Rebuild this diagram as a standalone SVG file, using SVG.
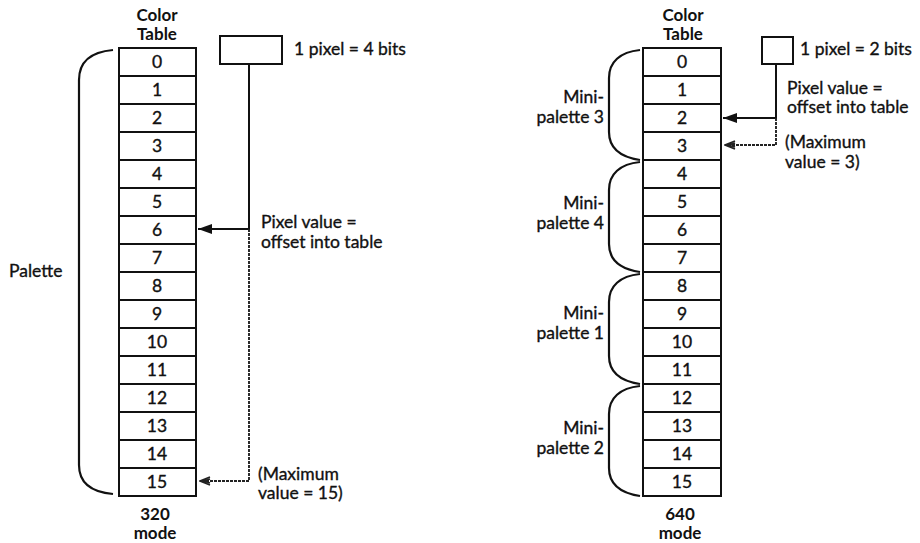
<svg xmlns="http://www.w3.org/2000/svg" width="920" height="543" viewBox="0 0 920 543">
<defs>
<style>
.t{font-family:Lato,"Liberation Sans",sans-serif;font-size:17.5px;fill:#111;stroke:#111;stroke-width:0.35}
.b{font-family:Lato,"Liberation Sans",sans-serif;font-size:17px;font-weight:bold;fill:#111}
.cell{fill:#fff;stroke:#111;stroke-width:2}
.ln{fill:none;stroke:#111;stroke-width:2}
.br{fill:none;stroke:#111;stroke-width:2.2}
.dot{fill:none;stroke:#222;stroke-width:1.9;stroke-dasharray:3 1}
</style>
<marker id="ah" viewBox="0 0 14 10" refX="14" refY="5" markerWidth="14" markerHeight="10" markerUnits="userSpaceOnUse" orient="auto">
<path d="M0,0 L14,5 L0,10 Z" fill="#111"/>
</marker>
<marker id="ahd" viewBox="0 0 12 10" refX="11" refY="5" markerWidth="12" markerHeight="10" markerUnits="userSpaceOnUse" orient="auto">
<path d="M1,1 L11,5 L1,9 M1,3 L7,5 L1,7" fill="none" stroke="#222" stroke-width="1.6"/>
</marker>
</defs>
<rect width="920" height="543" fill="#fff"/>

<g id="table320">
<text class="b" x="157" y="21" text-anchor="middle">Color</text>
<text class="b" x="157" y="40" text-anchor="middle">Table</text>
<rect class="cell" x="119" y="48" width="77" height="28"/>
<rect class="cell" x="119" y="76" width="77" height="28"/>
<rect class="cell" x="119" y="104" width="77" height="28"/>
<rect class="cell" x="119" y="132" width="77" height="28"/>
<rect class="cell" x="119" y="160" width="77" height="28"/>
<rect class="cell" x="119" y="188" width="77" height="28"/>
<rect class="cell" x="119" y="216" width="77" height="28"/>
<rect class="cell" x="119" y="244" width="77" height="28"/>
<rect class="cell" x="119" y="272" width="77" height="28"/>
<rect class="cell" x="119" y="300" width="77" height="28"/>
<rect class="cell" x="119" y="328" width="77" height="28"/>
<rect class="cell" x="119" y="356" width="77" height="28"/>
<rect class="cell" x="119" y="384" width="77" height="28"/>
<rect class="cell" x="119" y="412" width="77" height="28"/>
<rect class="cell" x="119" y="440" width="77" height="28"/>
<rect class="cell" x="119" y="468" width="77" height="28"/>
<g class="t" text-anchor="middle">
<text x="157" y="68">0</text>
<text x="157" y="96">1</text>
<text x="157" y="124">2</text>
<text x="157" y="152">3</text>
<text x="157" y="180">4</text>
<text x="157" y="208">5</text>
<text x="157" y="236">6</text>
<text x="157" y="264">7</text>
<text x="157" y="292">8</text>
<text x="157" y="320">9</text>
<text x="157" y="348">10</text>
<text x="157" y="376">11</text>
<text x="157" y="404">12</text>
<text x="157" y="432">13</text>
<text x="157" y="460">14</text>
<text x="157" y="488">15</text>
</g>
<text class="b" x="155" y="520" text-anchor="middle">320</text>
<text class="b" x="155" y="539" text-anchor="middle">mode</text>
</g>

<g id="palette320">
<path class="br" d="M113,50 C90,52 79,62 79,80 L79,465 C79,482 90,492 113,494"/>
<text class="t" x="9" y="277">Palette</text>
</g>

<g id="pixel320">
<rect class="cell" x="220" y="36" width="62" height="28"/>
<text class="t" x="294" y="55">1 pixel = 4 bits</text>
<text class="t" x="261" y="228">Pixel value =</text>
<text class="t" x="261" y="248">offset into table</text>
<text class="t" x="258" y="480">(Maximum</text>
<text class="t" x="258" y="499">value = 15)</text>
</g>

<g id="table640">
<text class="b" x="683" y="21" text-anchor="middle">Color</text>
<text class="b" x="683" y="40" text-anchor="middle">Table</text>
<rect class="cell" x="643" y="48" width="78" height="28"/>
<rect class="cell" x="643" y="76" width="78" height="28"/>
<rect class="cell" x="643" y="104" width="78" height="28"/>
<rect class="cell" x="643" y="132" width="78" height="28"/>
<rect class="cell" x="643" y="160" width="78" height="28"/>
<rect class="cell" x="643" y="188" width="78" height="28"/>
<rect class="cell" x="643" y="216" width="78" height="28"/>
<rect class="cell" x="643" y="244" width="78" height="28"/>
<rect class="cell" x="643" y="272" width="78" height="28"/>
<rect class="cell" x="643" y="300" width="78" height="28"/>
<rect class="cell" x="643" y="328" width="78" height="28"/>
<rect class="cell" x="643" y="356" width="78" height="28"/>
<rect class="cell" x="643" y="384" width="78" height="28"/>
<rect class="cell" x="643" y="412" width="78" height="28"/>
<rect class="cell" x="643" y="440" width="78" height="28"/>
<rect class="cell" x="643" y="468" width="78" height="28"/>
<g class="t" text-anchor="middle">
<text x="682" y="68">0</text>
<text x="682" y="96">1</text>
<text x="682" y="124">2</text>
<text x="682" y="152">3</text>
<text x="682" y="180">4</text>
<text x="682" y="208">5</text>
<text x="682" y="236">6</text>
<text x="682" y="264">7</text>
<text x="682" y="292">8</text>
<text x="682" y="320">9</text>
<text x="682" y="348">10</text>
<text x="682" y="376">11</text>
<text x="682" y="404">12</text>
<text x="682" y="432">13</text>
<text x="682" y="460">14</text>
<text x="682" y="488">15</text>
</g>
<text class="b" x="680" y="520" text-anchor="middle">640</text>
<text class="b" x="680" y="539" text-anchor="middle">mode</text>
</g>

<g id="minipalette3">
<path class="br" d="M640,50 C620,52 609,62 609,78 L609,132 C609,148 620,157 640,160"/>
<text class="t" x="604" y="103" text-anchor="end">Mini-</text>
<text class="t" x="604" y="123" text-anchor="end">palette 3</text>
</g>
<g id="minipalette4">
<path class="br" d="M640,162 C620,164 609,174 609,190 L609,244 C609,260 620,269 640,272"/>
<text class="t" x="604" y="209" text-anchor="end">Mini-</text>
<text class="t" x="604" y="229" text-anchor="end">palette 4</text>
</g>
<g id="minipalette1">
<path class="br" d="M640,274 C620,276 609,286 609,302 L609,356 C609,372 620,381 640,384"/>
<text class="t" x="604" y="319" text-anchor="end">Mini-</text>
<text class="t" x="604" y="339" text-anchor="end">palette 1</text>
</g>
<g id="minipalette2">
<path class="br" d="M640,386 C620,388 609,398 609,414 L609,468 C609,484 620,493 640,496"/>
<text class="t" x="604" y="434" text-anchor="end">Mini-</text>
<text class="t" x="604" y="454" text-anchor="end">palette 2</text>
</g>

<g id="pixel640">
<rect class="cell" x="762" y="37" width="31" height="27"/>
<text class="t" x="800" y="55">1 pixel = 2 bits</text>
<text class="t" x="787" y="94">Pixel value =</text>
<text class="t" x="787" y="113">offset into table</text>
<text class="t" x="785" y="148">(Maximum</text>
<text class="t" x="785" y="168">value = 3)</text>
</g>

<g id="connectors">
<path class="ln" d="M249,64 L249,229 L198,229" marker-end="url(#ah)"/>
<path class="dot" d="M249,229 L249,481 L200,481" marker-end="url(#ahd)"/>
<path class="ln" d="M776,64 L776,118 L723,118" marker-end="url(#ah)"/>
<path class="dot" d="M776,118 L776,145 L725,145" marker-end="url(#ahd)"/>
</g>
</svg>
